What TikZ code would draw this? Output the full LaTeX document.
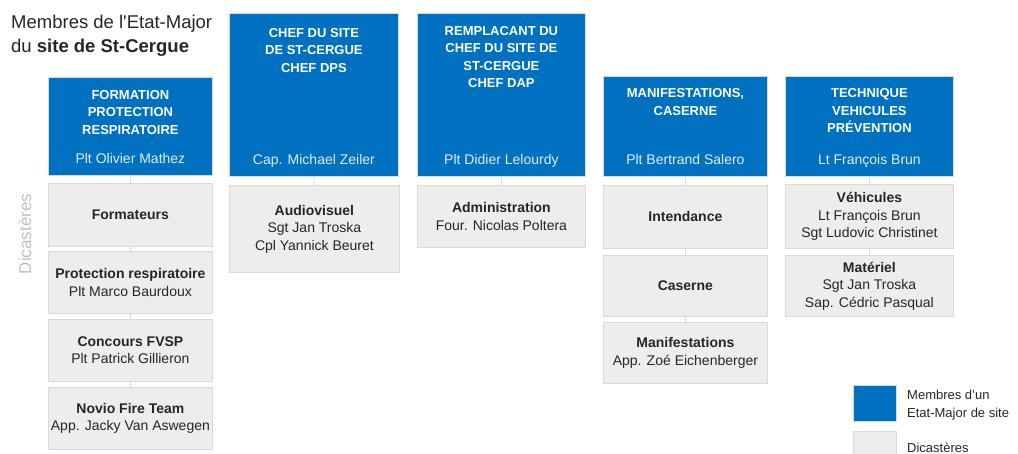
\documentclass[tikz,border=0pt]{standalone}
\usepackage{fontspec}
\setmainfont{Liberation Sans}
\definecolor{chefblue}{HTML}{0070C0}
\definecolor{dicafill}{HTML}{EDEDED}
\definecolor{dicaline}{HTML}{D9D9D9}
\definecolor{labelgrey}{HTML}{BFBFBF}

\begin{document}
\begin{tikzpicture}[x=1pt, y=-1pt,
   membre/.style={draw=dicaline, fill=chefblue, line width=0.8pt, anchor=north west, inner sep=0pt},
   dicastere/.style={draw=dicaline, fill=dicafill, line width=0.8pt, anchor=north west, inner sep=0pt,
      align=center, text=black!85, font=\fontsize{14}{17.5}\selectfont},
   titre/.style={anchor=north, inner sep=0pt, align=center, text=white, font=\bfseries\fontsize{13}{17.5}\selectfont},
   nom/.style={anchor=base, inner sep=0pt, text=white!88!chefblue, font=\fontsize{14}{17}\selectfont},
   lien/.style={draw=dicaline, line width=0.8pt}]%
   \useasboundingbox (0,0) rectangle (1018,454);
   % titre
   \node[anchor=north west, inner sep=0pt, align=left, text=black!85, font=\fontsize{18.5}{23.5}\selectfont]
      (titre) at (11,15) {Membres de l\textquotesingle Etat-Major\\du \textbf{site de St-Cergue}};
   \node[rotate=90, inner sep=0pt, text=labelgrey, font=\fontsize{17}{17}\selectfont] (dicalabel) at (25,234) {Dicastères};
   % membres de l'etat-major
   \node[membre, minimum width=164pt, minimum height=98pt] (form) at (48,77) {};
   \node[membre, minimum width=169pt, minimum height=163pt] (chef) at (229,13) {};
   \node[membre, minimum width=168pt, minimum height=163pt] (rempl) at (417,13) {};
   \node[membre, minimum width=164pt, minimum height=100pt] (manif) at (603,76) {};
   \node[membre, minimum width=168pt, minimum height=100pt] (tech) at (785,76) {};
   \node[titre] (formtitre) at ([yshift=-13pt]form.north) {FORMATION\\PROTECTION\\RESPIRATOIRE};
   \node[titre] (cheftitre) at ([yshift=-15pt]chef.north) {CHEF DU SITE\\DE ST-CERGUE\\CHEF DPS};
   \node[titre] (rempltitre) at ([yshift=-13pt]rempl.north) {REMPLACANT DU\\CHEF DU SITE DE\\ST-CERGUE\\CHEF DAP};
   \node[titre] (maniftitre) at ([yshift=-12.5pt]manif.north) {MANIFESTATIONS,\\CASERNE};
   \node[titre] (techtitre) at ([yshift=-12.5pt]tech.north) {TECHNIQUE\\VEHICULES\\PRÉVENTION};
   \node[nom] (formnom) at ([yshift=12.5pt]form.south) {Plt Olivier Mathez};
   \node[nom] (chefnom) at ([yshift=12.5pt]chef.south) {Cap. Michael Zeiler};
   \node[nom] (emplnom) at ([yshift=12.5pt]rempl.south) {Plt Didier Lelourdy};
   \node[nom] (manifnom) at ([yshift=12.5pt]manif.south) {Plt Bertrand Salero};
   \node[nom] (technom) at ([yshift=12.5pt]tech.south) {Lt François Brun};
   % dicasteres
   \node[dicastere, minimum width=164pt, minimum height=63pt] (formateurs) at (48,183) {\textbf{Formateurs}};
   \node[dicastere, minimum width=164pt, minimum height=62pt] (protection) at (48,251) {\textbf{Protection respiratoire}\\Plt Marco Baurdoux};
   \node[dicastere, minimum width=164pt, minimum height=62pt] (concours) at (48,319) {\textbf{Concours FVSP}\\Plt Patrick Gillieron};
   \node[dicastere, minimum width=164pt, minimum height=62pt] (novio) at (48,387) {\textbf{Novio Fire Team}\\App. Jacky Van Aswegen};
   \node[dicastere, minimum width=170pt, minimum height=87pt] (audiovisuel) at (229,185) {\textbf{Audiovisuel}\\Sgt Jan Troska\\Cpl Yannick Beuret};
   \node[dicastere, minimum width=168pt, minimum height=62pt] (administration) at (417,185) {\textbf{Administration}\\Four. Nicolas Poltera};
   \node[dicastere, minimum width=164pt, minimum height=63pt] (intendance) at (603,185) {\textbf{Intendance}};
   \node[dicastere, minimum width=164pt, minimum height=61pt] (caserne) at (603,255) {\textbf{Caserne}};
   \node[dicastere, minimum width=164pt, minimum height=61pt] (manifestations) at (603,322) {\textbf{Manifestations}\\App. Zoé Eichenberger};
   \node[dicastere, minimum width=168pt, minimum height=64pt] (vehicules) at (785,184) {\textbf{Véhicules}\\Lt François Brun\\Sgt Ludovic Christinet};
   \node[dicastere, minimum width=168pt, minimum height=61pt] (materiel) at (785,255) {\textbf{Matériel}\\Sgt Jan Troska\\Sap. Cédric Pasqual};
   % liens
   \draw[lien] (form.south) -- (formateurs.north);
   \draw[lien] (formateurs.south) -- (protection.north);
   \draw[lien] (protection.south) -- (concours.north);
   \draw[lien] (concours.south) -- (novio.north);
   \draw[lien] (chef.south) -- (audiovisuel.north);
   \draw[lien] (rempl.south) -- (administration.north);
   \draw[lien] (manif.south) -- (intendance.north);
   \draw[lien] (intendance.south) -- (caserne.north);
   \draw[lien] (caserne.south) -- (manifestations.north);
   \draw[lien] (tech.south) -- (vehicules.north);
   \draw[lien] (vehicules.south) -- (materiel.north);
   % legende
   \node[membre, minimum width=43pt, minimum height=36pt] (legmembre) at (853,385) {};
   \node[dicastere, minimum width=43pt, minimum height=30pt] (legdica) at (853,431) {};
   \node[anchor=north west, inner sep=0pt, align=left, text=black!85, font=\fontsize{13}{17.5}\selectfont]
      (legmembretexte) at (907,390) {Membres d’un\\Etat-Major de site};
   \node[anchor=base west, inner sep=0pt, text=black!85, font=\fontsize{13}{17.5}\selectfont]
      (legdicatexte) at (907,453) {Dicastères};
\end{tikzpicture}
\end{document}
